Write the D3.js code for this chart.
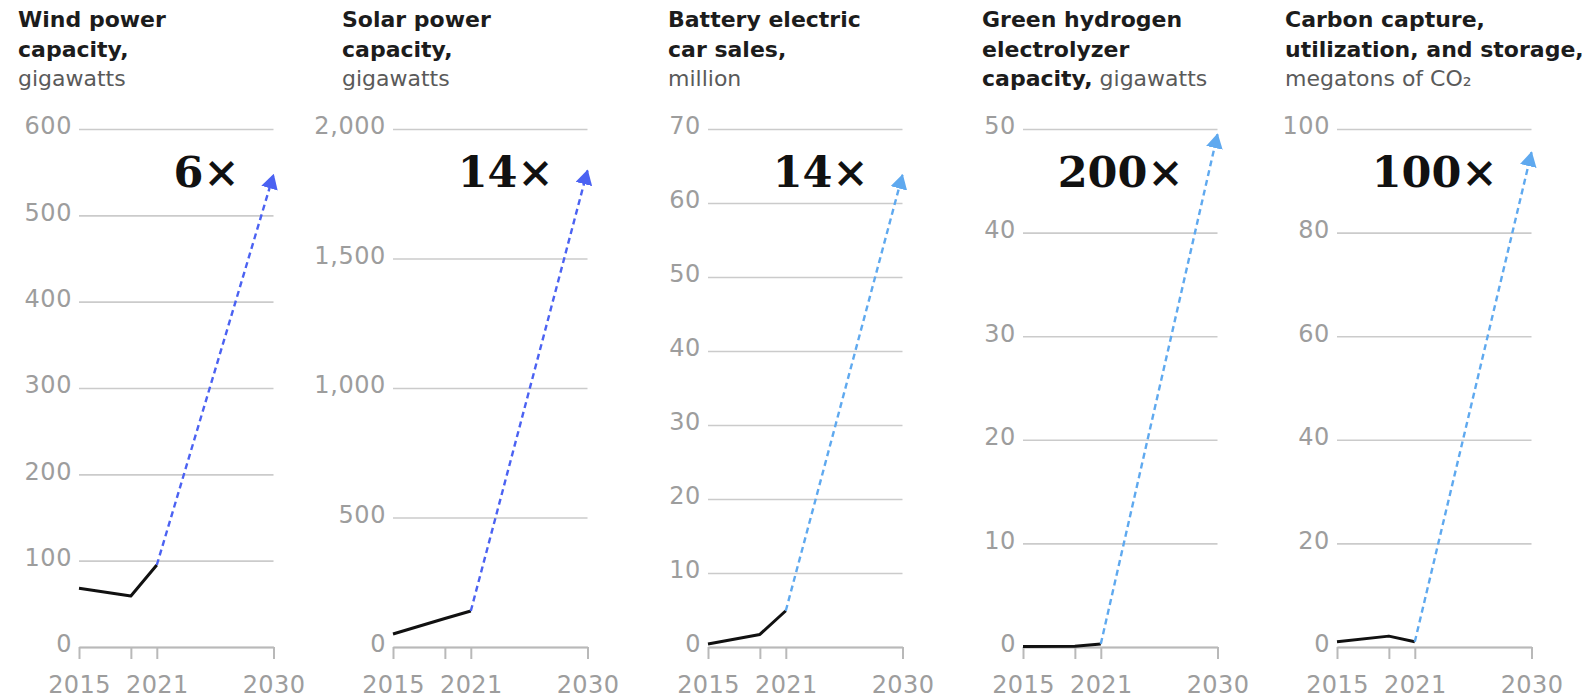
<!DOCTYPE html>
<html>
<head>
<meta charset="utf-8">
<script src="https://cdn.jsdelivr.net/npm/d3@7"></script>
<style>
  body { margin: 0; background: #fff; }
  svg { display: block; }
</style>
</head>
<body>
<svg id="chart" width="1588" height="698"></svg>
<script>
// ---- data ----
const historyYears = [2015, 2019, 2021];
const targetYear = 2030;
const axisTickYears = [2015, 2019, 2021, 2030];
const labeledYears = [2015, 2021, 2030];

const windCapacity = [68, 59, 95];        // GW
const windTarget2030 = 547;
const windTicks = [0, 100, 200, 300, 400, 500, 600];

const solarCapacity = [50, 110, 139];     // GW
const solarTarget2030 = 1840;
const solarTicks = [0, 500, 1000, 1500, 2000];

const evSales = [0.4, 1.7, 4.9];          // million
const evTarget2030 = 63.8;
const evTicks = [0, 10, 20, 30, 40, 50, 60, 70];

const hydrogenCapacity = [0.05, 0.08, 0.3]; // GW
const hydrogenTarget2030 = 49.5;
const hydrogenTicks = [0, 10, 20, 30, 40, 50];

const ccusCapacity = [1.0, 2.1, 1.0];     // Mt CO2
const ccusTarget2030 = 95.5;
const ccusTicks = [0, 20, 40, 60, 80, 100];

const multipliers = ["6×", "14×", "14×", "200×", "100×"];

// title lines: each line is a list of [text, isBold] runs
const titles = [
  [[["Wind power", true]], [["capacity,", true]], [["gigawatts", false]]],
  [[["Solar power", true]], [["capacity,", true]], [["gigawatts", false]]],
  [[["Battery electric", true]], [["car sales,", true]], [["million", false]]],
  [[["Green hydrogen", true]], [["electrolyzer", true]], [["capacity,", true], [" gigawatts", false]]],
  [[["Carbon capture,", true]], [["utilization, and storage,", true]], [["megatons of CO₂", false]]]
];

// ---- layout ----
const plotLeft = [79, 393, 708, 1023, 1337];
const titleLeft = [18, 342, 668, 982, 1285];
const plotW = 194.5;
const yBottom = 647, yTop = 129;
const colorStrong = "#4b62f2";
const colorLight = "#5fa9ef";

const panels = [
  { values: windCapacity, target: windTarget2030, ticks: windTicks, fmt: d3.format("d"), color: colorStrong },
  { values: solarCapacity, target: solarTarget2030, ticks: solarTicks, fmt: d3.format(","), color: colorStrong },
  { values: evSales, target: evTarget2030, ticks: evTicks, fmt: d3.format("d"), color: colorLight },
  { values: hydrogenCapacity, target: hydrogenTarget2030, ticks: hydrogenTicks, fmt: d3.format("d"), color: colorLight },
  { values: ccusCapacity, target: ccusTarget2030, ticks: ccusTicks, fmt: d3.format("d"), color: colorLight }
];

const svg = d3.select("#chart");
const defs = svg.append("defs");
[["arrow-strong", colorStrong], ["arrow-light", colorLight]].forEach(([id, c]) => {
  defs.append("marker")
    .attr("id", id)
    .attr("markerUnits", "userSpaceOnUse")
    .attr("viewBox", "0 0 15 17")
    .attr("markerWidth", 15).attr("markerHeight", 17)
    .attr("refX", 14).attr("refY", 8.5)
    .attr("orient", "auto")
    .append("path").attr("d", "M0,0L15,8.5L0,17Z").attr("fill", c);
});

const sansFont = "'DejaVu Sans', sans-serif";

panels.forEach((p, i) => {
  // title block
  const t = svg.append("text")
    .attr("x", titleLeft[i])
    .attr("font-family", sansFont)
    .attr("font-size", 22);
  titles[i].forEach((line, li) => {
    line.forEach((run, ri) => {
      const ts = t.append("tspan")
        .text(run[0])
        .attr("font-weight", run[1] ? "bold" : "normal")
        .attr("fill", run[1] ? "#1c1c1c" : "#5a5a5a");
      if (ri === 0) ts.attr("x", titleLeft[i]).attr("y", 27 + li * 29.5);
    });
  });

  const g = svg.append("g").attr("transform", `translate(${plotLeft[i]},0)`);
  const x = d3.scaleLinear().domain([2015, targetYear]).range([0, plotW]);
  const y = d3.scaleLinear().domain([0, d3.max(p.ticks)]).range([yBottom, yTop]);

  // horizontal gridlines with value labels
  g.append("g")
    .call(d3.axisLeft(y).tickValues(p.ticks).tickSize(-plotW).tickPadding(7).tickFormat(p.fmt))
    .call(a => a.select(".domain").remove())
    .call(a => a.selectAll(".tick line").attr("stroke", "#cbcbcb").attr("stroke-width", 1.6))
    .call(a => a.selectAll(".tick text")
      .attr("fill", "#9d9d9d")
      .attr("font-family", sansFont)
      .attr("font-size", 24)
      .attr("letter-spacing", 0.6)
      .attr("dy", "0.2em"));

  // year axis
  g.append("g")
    .attr("transform", `translate(0,${yBottom})`)
    .call(d3.axisBottom(x).tickValues(axisTickYears).tickSize(12).tickSizeOuter(0).tickPadding(17)
      .tickFormat(d => labeledYears.includes(d) ? d : ""))
    .call(a => a.select(".domain").attr("stroke", "#b9b9b9").attr("stroke-width", 2))
    .call(a => a.selectAll(".tick line").attr("stroke", "#b9b9b9").attr("stroke-width", 2))
    .call(a => a.selectAll(".tick text")
      .attr("fill", "#9d9d9d")
      .attr("font-family", sansFont)
      .attr("font-size", 24)
      .attr("letter-spacing", 0.4));

  // historical values
  g.append("path")
    .datum(historyYears.map((yr, k) => [yr, p.values[k]]))
    .attr("fill", "none")
    .attr("stroke", "#111")
    .attr("stroke-width", 3)
    .attr("stroke-linejoin", "round")
    .attr("d", d3.line().x(d => x(d[0])).y(d => y(d[1])));

  // projection to 2030
  const last = historyYears.length - 1;
  g.append("path")
    .datum([[historyYears[last], p.values[last]], [targetYear, p.target]])
    .attr("fill", "none")
    .attr("stroke", p.color)
    .attr("stroke-width", 2.4)
    .attr("stroke-dasharray", "6,4")
    .attr("marker-end", `url(#${p.color === colorStrong ? "arrow-strong" : "arrow-light"})`)
    .attr("d", d3.line().x(d => x(d[0])).y(d => y(d[1])));

  // growth multiplier
  g.append("text")
    .attr("x", plotW - 34)
    .attr("y", 187)
    .attr("text-anchor", "end")
    .attr("font-family", "'DejaVu Serif', serif")
    .attr("font-weight", "bold")
    .attr("font-size", 43)
    .attr("fill", "#111")
    .text(multipliers[i]);
});
</script>
</body>
</html>
